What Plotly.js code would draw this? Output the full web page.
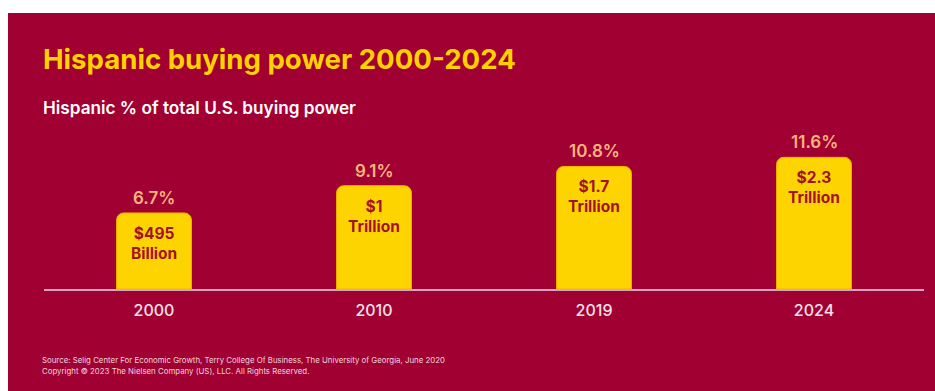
<!DOCTYPE html>
<html>
<head>
<meta charset="utf-8">
<script src="https://cdn.plot.ly/plotly-3.0.1.min.js"></script>
<style>
  html, body { margin: 0; padding: 0; background: #ffffff; width: 935px; height: 391px; overflow: hidden; }
  #chart { position: absolute; left: 8px; top: 13px; width: 927px; height: 378px; }
</style>
</head>
<body>
<div id="chart"></div>
<script>
// ---- data ----
const years = ["2000", "2010", "2019", "2024"];
const sharePct = [6.7, 9.1, 10.8, 11.6];
const shareLabels = ["6.7%", "9.1%", "10.8%", "11.6%"];
const buyingPowerLabels = ["$495<br>Billion", "$1<br>Trillion", "$1.7<br>Trillion", "$2.3<br>Trillion"];

const titleText = "Hispanic buying power 2000-2024";
const subtitleText = "Hispanic % of total U.S. buying power";
const sourceText = "Source: Selig Center For Economic Growth, Terry College Of Business, The University of Georgia, June 2020";
const copyrightText = "Copyright \u00A9 2023 The Nielsen Company (US), LLC. All Rights Reserved.";

// ---- styles ----
const BG = "#a10033";
const BAR = "#fdd400";
const PEACH = "#f8b47e";
const DARKRED = "#a3112a";
const FONT = "Inter, Roboto, sans-serif";

const W = 927, H = 378;
const M = { l: 35.5, r: 10.5, t: 127, b: 102 };
const PW = W - M.l - M.r, PH = H - M.t - M.b;
const px = dx => (dx - M.l) / PW;          // div x -> paper x
const py = dy => (H - M.b - dy) / PH;      // div y -> paper y

const trace = {
  type: "bar",
  x: years,
  y: sharePct,
  marker: { color: BAR, line: { color: "#f2b600", width: 1 } },
  hoverinfo: "skip"
};

const annotations = [];
years.forEach((yr, i) => {
  annotations.push({
    x: i, y: sharePct[i], xref: "x", yref: "y",
    text: shareLabels[i], showarrow: false,
    yanchor: "bottom", yshift: 3,
    font: { family: FONT, size: 17, color: PEACH, weight: 600 }
  });
  annotations.push({
    x: i, y: sharePct[i], xref: "x", yref: "y",
    text: buyingPowerLabels[i], showarrow: false,
    yanchor: "top", yshift: -9,
    font: { family: FONT, size: 15.5, color: DARKRED, weight: 700 }
  });
});
annotations.push({
  xref: "paper", yref: "paper", x: px(32), y: py(94), xanchor: "left", yanchor: "middle",
  text: subtitleText, showarrow: false,
  font: { family: FONT, size: 17.2, color: "#ffffff", weight: 600 }
});
annotations.push({
  xref: "paper", yref: "paper", x: px(31), y: py(347), xanchor: "left", yanchor: "middle",
  text: sourceText, showarrow: false,
  font: { family: FONT, size: 7.85, color: "#f3d3dc" }
});
annotations.push({
  xref: "paper", yref: "paper", x: px(31), y: py(358), xanchor: "left", yanchor: "middle",
  text: copyrightText, showarrow: false,
  font: { family: FONT, size: 7.85, color: "#f3d3dc" }
});

const layout = {
  width: W, height: H,
  paper_bgcolor: BG, plot_bgcolor: BG,
  margin: M,
  showlegend: false,
  bargap: 0.66,
  barcornerradius: 7,
  title: {
    text: titleText,
    x: 35 / W, xanchor: "left", xref: "container",
    y: 1 - 46 / H, yanchor: "middle", yref: "container",
    font: { family: FONT, size: 27.6, color: "#ffd100", weight: 700 }
  },
  xaxis: {
    type: "category",
    range: [-0.5, 3.5],
    showline: true, linecolor: "#d6a3c1", linewidth: 2,
    showgrid: false, zeroline: false, ticks: "",
    ticklabelstandoff: 6,
    tickfont: { family: FONT, size: 16, color: "#f5e1e9", weight: 500 }
  },
  yaxis: {
    range: [0, 13.13],
    visible: false, showgrid: false, zeroline: false
  },
  annotations: annotations
};

Plotly.newPlot("chart", [trace], layout, { displayModeBar: false, staticPlot: true });
</script>
</body>
</html>
